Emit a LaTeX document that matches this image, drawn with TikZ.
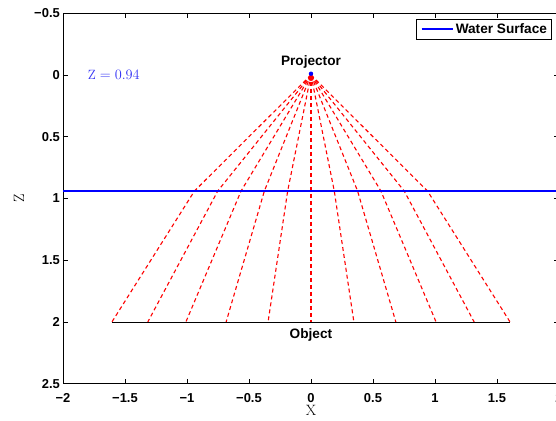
\documentclass[tikz,border=0pt]{standalone}
\usepackage{fontspec}
\setsansfont{Liberation Sans}
\usepackage{tikz}
\usetikzlibrary{positioning}
\definecolor{raycol}{RGB}{255,0,0}
\definecolor{watercol}{RGB}{0,0,255}
\definecolor{zcol}{RGB}{50,50,245}

\begin{document}
\begin{tikzpicture}[x=124bp,y=-123.5bp,
 tl/.style={font=\sffamily\bfseries\fontsize{13}{13}\selectfont,inner sep=1pt},
 lbl/.style={font=\sffamily\bfseries\fontsize{13.7}{14}\selectfont,inner sep=0pt},
 ray/.style={draw=raycol,line width=1.1bp,dash pattern=on 4bp off 3bp},
 ax/.style={draw=black,line width=0.8bp}]
 \useasboundingbox (-2.508,-0.607) rectangle (1.976,2.802);
 % axes box and ticks
 \draw[ax] (1.976,-0.5) -- (-2,-0.5) -- (-2,2.5) -- (1.976,2.5);
 \foreach \x in {-1.5,-1,-0.5,0,0.5,1,1.5}{
   \draw[ax] (\x,-0.5) -- ++(0,0.04);
   \draw[ax] (\x,2.5) -- ++(0,-0.04);
 }
 \foreach \z in {0,0.5,1,1.5,2}{
   \draw[ax] (-2,\z) -- ++(0.04,0);
   \draw[ax] (1.96,\z) -- (1.976,\z);
 }
 \foreach \x/\s in {-2/−2,-1.5/−1.5,-1/−1,-0.5/−0.5,0/0,0.5/0.5,1/1,1.5/1.5,2/2}
   \node[tl] at (\x,2.615) {\s};
 \foreach \z/\s in {-0.5/−0.5,0/0,0.5/0.5,1/1,1.5/1.5,2/2,2.5/2.5}
   \node[tl,anchor=east] at (-2.016,\z) {\s};
 \node[font=\fontsize{15}{15}\selectfont,inner sep=0pt] (xlab) at (0,2.72) {X};
 \node[font=\fontsize{15}{15}\selectfont,inner sep=0pt,rotate=90] (zlab) at (-2.355,0.996) {Z};
 % rays: projector -> surface -> object
 \coordinate (proj) at (0,0);
 \foreach \t/\xo [count=\i] in {-1/-1.6054,-0.8/-1.3160,-0.6/-1.0087,-0.4/-0.6843,-0.2/-0.3460,
     0/0,0.2/0.3460,0.4/0.6843,0.6/1.0087,0.8/1.3160,1/1.6054}{
   \coordinate (s\i) at ({0.94*\t},0.94);
   \coordinate (o\i) at (\xo,2);
   \draw[ray] (proj) -- (s\i) -- (o\i);
 }
 \draw[ax] (o1) -- (o11);
 \coordinate (wl) at (-2,0.94);
 \coordinate (wr) at (1.976,0.94);
 \draw[watercol,line width=1.6bp] (wl) -- (wr);
 % projector marker
 \node[circle,fill=raycol,inner sep=0pt,minimum size=6bp] (pr) at (0,0.025) {};
 \node[circle,fill=watercol,inner sep=0pt,minimum size=4.4bp] (pb) at (0,-0.01) {};
 \node[lbl] (projlbl) at (0,-0.105) {Projector};
 \node[lbl] (objlbl) at (0,2.105) {Object};
 \node[text=zcol,font=\fontsize{13.5}{14}\selectfont,inner sep=0pt] (zval) at (-1.59,0) {$\mathrm{Z} = 0.94$};
 % legend
 \node[ax,fill=white,minimum width=135bp,minimum height=20bp,inner sep=0pt] (leg) at (1.391,-0.372) {};
 \coordinate (la) at ([xshift=6bp]leg.west);
 \coordinate (lb) at ([xshift=37bp]leg.west);
 \draw[watercol,line width=1.6bp] (la) -- (lb);
 \node[lbl,right=3bp of lb] (legtxt) {Water Surface};
\end{tikzpicture}
\end{document}
